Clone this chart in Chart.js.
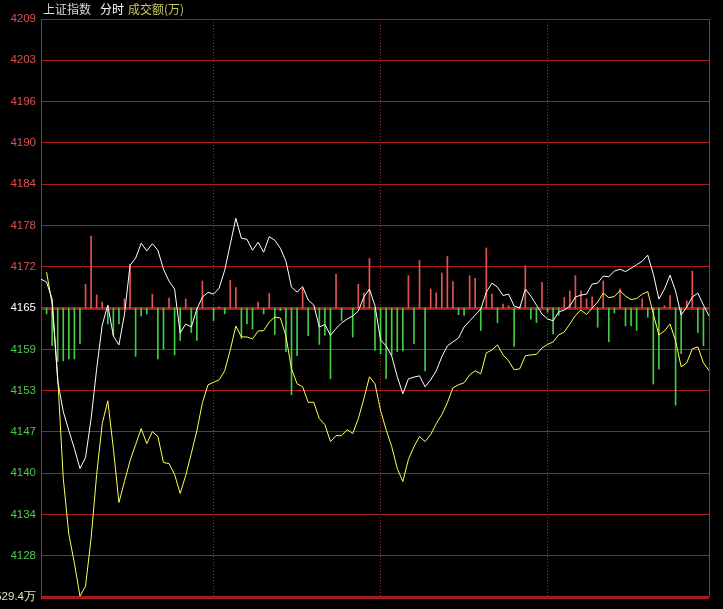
<!DOCTYPE html>
<html><head><meta charset="utf-8">
<script src="https://cdn.jsdelivr.net/npm/chart.js@4.4.1/dist/chart.umd.min.js"></script>
<style>html,body{margin:0;padding:0;background:#000;}canvas{display:block;}</style>
</head><body>
<canvas id="c" width="723" height="609"></canvas>
<script>
const times = ['09:25','09:30','09:32','09:34','09:36','09:38','09:40','09:42','09:44','09:46','09:48',
'09:50','09:52','09:54','09:56','09:58','10:00','10:02','10:04','10:06','10:08',
'10:10','10:12','10:14','10:16','10:18','10:20','10:22','10:24','10:26','10:28',
'10:30','10:32','10:34','10:36','10:38','10:40','10:42','10:44','10:46','10:48',
'10:50','10:52','10:54','10:56','10:58','11:00','11:02','11:04','11:06','11:08',
'11:10','11:12','11:14','11:16','11:18','11:20','11:22','11:24','11:26','11:28',
'11:30','13:02','13:04','13:06','13:08','13:10','13:12','13:14','13:16','13:18',
'13:20','13:22','13:24','13:26','13:28','13:30','13:32','13:34','13:36','13:38',
'13:40','13:42','13:44','13:46','13:48','13:50','13:52','13:54','13:56','13:58',
'14:00','14:02','14:04','14:06','14:08','14:10','14:12','14:14','14:16','14:18',
'14:20','14:22','14:24','14:26','14:28','14:30','14:32','14:34','14:36','14:38',
'14:40','14:42','14:44','14:46','14:48','14:50','14:52','14:54','14:56','14:58'];

// 上证指数 (white line)
const indexPrice = [4169.97,4169.52,4166.96,4154.59,4149.91,4147.05,4144.33,4141.31,4142.97,4148.86,
4156.40,4163.04,4166.05,4161.38,4160.02,4164.69,4172.09,4173.14,4175.41,4174.24,
4175.33,4174.35,4171.48,4169.67,4168.47,4161.83,4163.19,4162.73,4165.45,4167.26,
4167.97,4167.71,4168.62,4171.33,4175.25,4179.18,4176.16,4176.01,4174.35,4175.56,
4174.05,4176.39,4175.86,4174.65,4172.69,4168.77,4168.01,4168.84,4166.81,4166.05,
4162.73,4163.11,4161.45,4162.51,4163.34,4163.94,4164.39,4165.15,4167.26,4168.47,
4165.95,4160.77,4159.87,4158.36,4155.19,4152.63,4154.89,4155.15,4155.34,4153.68,
4154.74,4156.10,4158.21,4159.87,4160.47,4161.07,4162.73,4163.64,4164.54,4165.45,
4168.01,4169.37,4168.77,4167.49,4167.71,4165.90,4165.60,4168.47,4167.41,4166.05,
4164.69,4163.94,4163.68,4165.00,4165.30,4165.90,4167.26,4167.56,4167.71,4169.22,
4169.37,4170.43,4170.35,4171.18,4171.48,4171.11,4171.63,4172.16,4172.69,4173.60,
4170.73,4166.96,4168.47,4170.58,4168.16,4164.54,4165.75,4167.26,4167.86,4166.05,
4164.39];

// 领先指标 (yellow line)
const leadingPrice = [null,4171.03,4166.20,4155.19,4139.80,4131.36,4126.98,4122.00,4123.51,4130.75,
4140.41,4148.10,4151.57,4144.33,4136.18,4139.35,4142.52,4144.93,4147.35,4145.08,
4146.89,4146.14,4142.22,4142.07,4140.41,4137.54,4140.26,4143.58,4147.05,4151.27,
4153.98,4154.36,4154.74,4156.10,4159.26,4162.88,4161.23,4161.23,4160.92,4162.13,
4162.18,4163.49,4164.24,4164.09,4161.38,4156.40,4154.14,4153.68,4151.34,4151.34,
4148.86,4147.95,4145.39,4146.29,4146.29,4147.20,4146.59,4148.86,4151.87,4155.19,
4154.14,4150.06,4147.20,4144.63,4141.31,4139.35,4142.67,4144.63,4146.14,4145.39,
4146.44,4148.10,4149.46,4151.27,4153.53,4153.98,4154.29,4155.49,4156.10,4155.64,
4158.81,4159.26,4160.02,4158.51,4157.60,4156.25,4156.40,4158.36,4158.51,4158.59,
4159.57,4160.09,4160.47,4161.53,4161.98,4163.19,4164.47,4165.30,4164.62,4165.60,
4166.51,4167.86,4167.18,4167.33,4168.24,4167.41,4166.88,4167.03,4167.71,4168.09,
4164.69,4161.53,4162.13,4163.19,4160.62,4156.70,4157.30,4159.42,4159.72,4157.30,
4156.14];

// 买卖力道 red / green bars (points above / below the centre line)
const strengthBars = [0,-0.9,-5.7,-8.1,-8.0,-7.7,-7.7,-5.4,3.6,10.9,
2.0,0.9,-2.4,-4.1,-2.4,1.4,6.6,-7.3,-1.2,-0.9,
2.1,-7.7,-6.2,1.5,-7.1,-4.9,1.4,-3.7,-4.9,4.1,
0,-1.9,0.2,-0.9,4.2,3.1,-4.6,-2.4,-3.2,0.9,
-0.9,2.2,-4.0,-0.4,-6.6,-13.1,-7.2,3.0,-4.2,0,
-5.5,-4.1,-10.7,5.1,-1.9,0,-4.4,3.6,2.3,7.5,
-6.4,-6.9,-10.7,-7.1,-6.6,-6.5,4.9,-5.4,7.2,-9.5,
2.9,2.3,5.3,7.8,4.0,-1.0,-1.1,4.9,4.5,-3.4,
9.1,2.1,-2.2,0.6,0.35,-5.8,0.2,6.4,-1.7,-2.2,
3.9,-0.65,-3.9,-1.1,1.6,2.6,4.9,2.6,1.4,1.7,
-2.9,4.1,-5.1,-0.75,2.9,-2.7,-2.7,-3.4,1.4,-1.4,
-11.5,-9.2,0.35,1.9,-14.7,-6.9,1.1,5.6,-3.7,-5.7,
0];

const prevClose = 4165.6;
const gridStep = 6.25;
const yTickLabels = ['4209','4203','4196','4190','4184','4178','4172','4165','4159','4153','4147','4140','4134','4128','529.4万'];
const hourMarks = ['10:30','11:30','14:00'];
const titleParts = [
  {text:'上证指数', color:'#d8d8d8', x:43},
  {text:'分时', color:'#ffffff', x:100},
  {text:'成交额(万)', color:'#c8c864', x:128}
];

const RED_GRID = '#ac1c1c';
const nTicks = yTickLabels.length;

const bgAndFrame = {
  id:'bgAndFrame',
  beforeDraw(chart){
    const c = chart.ctx;
    c.save();
    c.fillStyle = '#000';
    c.fillRect(0,0,chart.width,chart.height);
    c.restore();
  },
  afterDraw(chart){
    const c = chart.ctx, a = chart.chartArea;
    c.save();
    c.strokeStyle = '#b42424';
    c.lineWidth = 1;
    c.beginPath();
    c.moveTo(Math.round(a.right)+0.5, a.top);
    c.lineTo(Math.round(a.right)+0.5, a.bottom);
    c.stroke();
    c.font = "12px 'Noto Sans CJK SC', sans-serif";
    c.textBaseline = 'middle';
    titleParts.forEach(p => { c.fillStyle = p.color; c.fillText(p.text, p.x, 9); });
    c.restore();
  }
};

const barData = strengthBars.map(v => v === 0 ? null : [prevClose, prevClose + v]);
const barColors = strengthBars.map(v => v >= 0 ? '#e25454' : '#44cc44');

new Chart(document.getElementById('c'), {
  data: {
    labels: times,
    datasets: [
      {type:'line', label:'上证指数', data:indexPrice, borderColor:'#ffffff', borderWidth:1, pointRadius:0, tension:0, order:0},
      {type:'line', label:'领先指标', data:leadingPrice, borderColor:'#ffff50', borderWidth:1, pointRadius:0, tension:0, order:1},
      {type:'bar', label:'买卖力道', data:barData, backgroundColor:barColors, borderWidth:0, barThickness:1, order:2}
    ]
  },
  options: {
    responsive:false, animation:false, devicePixelRatio:1,
    layout:{padding:{left:0, top:19, right:14, bottom:10}},
    plugins:{legend:{display:false}, tooltip:{enabled:false}},
    scales:{
      x:{
        type:'category', offset:false,
        grid:{offset:false, drawTicks:false, lineWidth:1,
          color: ctx => (ctx.tick && hourMarks.includes(times[ctx.tick.value])) ? '#a82828' : 'rgba(0,0,0,0)'},
        border:{display:false, dash:[1,2]},
        ticks:{display:false, autoSkip:false},
        afterFit(axis){ axis.height = 0; }
      },
      y:{
        type:'linear',
        min: prevClose - gridStep*7, max: prevClose + gridStep*7,
        afterBuildTicks(axis){
          const t = [];
          for (let k = -7; k <= 7; k++) t.push({value: prevClose + k*gridStep});
          axis.ticks = t;
        },
        afterFit(axis){ axis.width = 41; },
        grid:{drawTicks:false,
          color: ctx => (ctx.index === 7 || ctx.index === 0) ? '#a41c1c' : RED_GRID,
          lineWidth: ctx => (ctx.index === 7 || ctx.index === 0) ? 3 : 1},
        border:{display:true, color:'#b42424', width:1},
        ticks:{
          padding:5,
          font:{family:"'Liberation Sans', Arial, sans-serif", size:11.5},
          callback:(v, i) => yTickLabels[nTicks-1-i],
          color: ctx => ctx.index === 0 ? '#e0e0b8' : ctx.index < 7 ? '#50c850' : ctx.index === 7 ? '#ffffff' : '#dc5050'
        }
      }
    }
  },
  plugins:[bgAndFrame]
});
</script>
</body></html>
